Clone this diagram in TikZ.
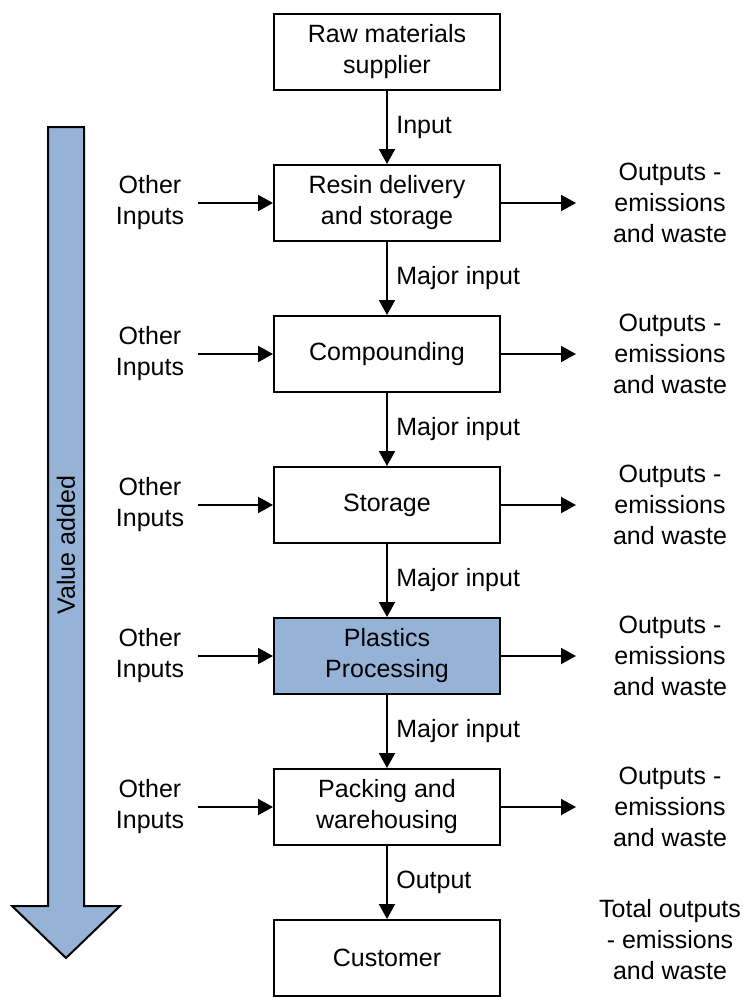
\documentclass[tikz,border=0pt]{standalone}
\usepackage{fontspec}
\setmainfont{Liberation Sans}
\usetikzlibrary{arrows.meta}

\definecolor{valueblue}{HTML}{95B3D7}

\tikzset{
  stage/.style={draw, line width=2pt, minimum width=226pt, minimum height=76pt,
    align=center, inner sep=0pt},
  flow/.style={line width=2pt, -{Triangle[length=15pt,width=16pt]}},
  sidetext/.style={align=center, inner sep=0pt},
}

\begin{document}
\begin{tikzpicture}[x=1pt, y=-1pt, font=\fontsize{25}{31}\selectfont]
    \useasboundingbox (0,0) rectangle (748,1001);

    % value added arrow
    \draw[line width=2pt, fill=valueblue] (48,127) -- (84,127) -- (84,906) -- (120,906)
        -- (66,958) -- (12,906) -- (48,906) -- cycle;
    \node[rotate=90] (value) at (66,545) {Value added};

    % the chain
    \node[stage] (supplier) at (387,52) {Raw materials\\supplier};
    \node[stage] (resin) at (387,203) {Resin delivery\\and storage};
    \node[stage] (compound) at (387,354) {Compounding};
    \node[stage] (storage) at (387,505) {Storage};
    \node[stage, fill=valueblue] (plastics) at (387,656) {Plastics\\Processing};
    \node[stage] (packing) at (387,807) {Packing and\\warehousing};
    \node[stage] (customer) at (387,958) {Customer};

    \draw[flow] (supplier) -- node[right, xshift=5pt]{Input} (resin);
    \draw[flow] (resin) -- node[right, xshift=5pt]{Major input} (compound);
    \draw[flow] (compound) -- node[right, xshift=5pt]{Major input} (storage);
    \draw[flow] (storage) -- node[right, xshift=5pt]{Major input} (plastics);
    \draw[flow] (plastics) -- node[right, xshift=5pt]{Major input} (packing);
    \draw[flow] (packing) -- node[right, xshift=5pt]{Output} (customer);

    % inputs and outputs on each side
    \foreach \st in {resin, compound, storage, plastics, packing} {
        \node[sidetext] (in-\st) at (150,0 |- \st) {Other\\Inputs};
        \node[sidetext] (out-\st) at (670,0 |- \st) {Outputs -\\emissions\\and waste};
        \coordinate (from-\st) at (198,0 |- \st);
        \coordinate (to-\st) at (576,0 |- \st);
        \draw[flow] (from-\st) -- (\st);
        \draw[flow] (\st) -- (to-\st);
    }
    \node[sidetext] (total) at (670,940) {Total outputs\\- emissions\\and waste};
\end{tikzpicture}
\end{document}
